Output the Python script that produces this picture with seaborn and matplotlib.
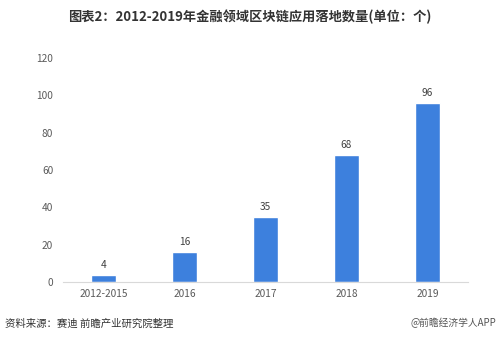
import matplotlib
matplotlib.use("Agg")
import matplotlib.pyplot as plt
import seaborn as sns
import pandas as pd

categories = ["2012-2015", "2016", "2017", "2018", "2019"]
values = [4, 16, 35, 68, 96]
yticks = [0, 20, 40, 60, 80, 100, 120]

sns.set_theme(style="white")
plt.rcParams['font.family'] = ['Noto Sans CJK SC', 'DejaVu Sans']

df = pd.DataFrame({"year": categories, "count": values})

fig = plt.figure(figsize=(4.99, 3.41), dpi=100)
ax = fig.add_axes([0.126, 0.173, 0.812, 0.657])
sns.barplot(data=df, x="year", y="count", color="#3d80dd", saturation=1,
            width=0.31, ax=ax)
ax.set_xlim(-0.5, 4.5)
ax.set_ylim(0, 120)
ax.set_yticks(yticks)
ax.set_yticklabels([str(t) for t in yticks])
ax.set_xlabel("")
ax.set_ylabel("")
for s in ["top", "right", "left"]:
    ax.spines[s].set_visible(False)
ax.spines["bottom"].set_color("#d9d9d9")
ax.spines["bottom"].set_linewidth(0.8)
ax.tick_params(axis="both", length=0, labelsize=7.3, labelcolor="#595959")
ax.tick_params(axis="y", pad=7)
ax.tick_params(axis="x", pad=5)
for i, v in enumerate(values):
    ax.text(i, v + 2.5, str(v), ha="center", va="bottom", fontsize=7.3, color="#404040")

fig.text(0.5, 0.95, "图表2：2012-2019年金融领域区块链应用落地数量(单位：个)",
         ha="center", va="center", fontsize=9.5, fontweight="bold", color="#333333")
fig.text(0.01, 0.052, "资料来源：赛迪 前瞻产业研究院整理", ha="left", va="center",
         fontsize=7.5, color="#333333")
fig.text(0.995, 0.052, "@前瞻经济学人APP", ha="right", va="center",
         fontsize=7, color="#555555")

fig.savefig("out.png", dpi=100)
